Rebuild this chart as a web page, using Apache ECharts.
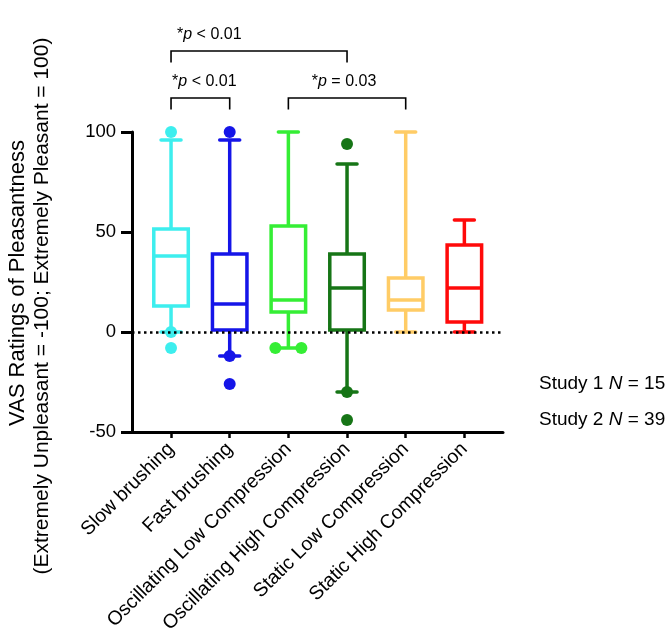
<!DOCTYPE html>
<html><head><meta charset="utf-8">
<script src="https://cdn.jsdelivr.net/npm/echarts@6/dist/echarts.min.js"></script>
<style>html,body{margin:0;padding:0;background:#fff}#c{width:671px;height:633px}</style>
</head><body><div id="c"></div>
<script>
const categories = ['Slow brushing', 'Fast brushing', 'Oscillating Low Compression', 'Oscillating High Compression', 'Static Low Compression', 'Static High Compression'];
const whiskerLow = [0, -12, -8, -30, 0, 0];
const q1 = [13, 1, 10, 1, 11, 5];
const median = [38, 14, 16, 22, 16, 22];
const q3 = [51.5, 39, 53, 39, 27, 43.5];
const whiskerHigh = [96, 96, 100, 84, 100, 56];
const outlierCat = [0, 0, 0, 1, 1, 1, 2, 2, 3, 3, 3];
const outlierVal = [100, 0, -8, 100, -12, -26, -8, -8, 94, -30, -44];
const yMin = -50, yMax = 100, yStep = 50;
const compFrom = [0, 0, 2];
const compTo = [3, 1, 4];
const compLevel = [140.5, 117, 117];
const compText = [' < 0.01', ' < 0.01', ' = 0.03'];
const studyLines = [['Study 1 ', 'N', ' = 15'], ['Study 2 ', 'N', ' = 39']];
const yTitle = ['VAS Ratings of Pleasantness', '(Extremely Unpleasant = -100; Extremely Pleasant = 100)'];

const colors = ['#3DEEEE', '#1515E8', '#35EE35', '#167516', '#FFCC66', '#FF0A0A'];
const FONT = '"Liberation Sans", Arial, sans-serif';

// spread duplicate outliers horizontally
const seen = {};
const outlierData = outlierCat.map((c, k) => {
  const key = c + '_' + outlierVal[k];
  seen[key] = (seen[key] || 0) + 1;
  return { key, idx: seen[key] };
});
const dupCount = {};
outlierData.forEach(o => { dupCount[o.key] = Math.max(dupCount[o.key] || 0, o.idx); });
const scatterData = outlierCat.map((c, k) => {
  const o = outlierData[k];
  const n = dupCount[o.key];
  const off = n > 1 ? (o.idx === 1 ? -13 : 13) : 0;
  return { value: [c, outlierVal[k]], symbolOffset: [off, 0], itemStyle: { color: colors[c], opacity: 1 } };
});

const chart = echarts.init(document.getElementById('c'), null, { renderer: 'canvas' });
chart.setOption({
  animation: false,
  backgroundColor: '#fff',
  grid: [
    { left: 132, right: 168, top: 132, bottom: 201, containLabel: false, outerBoundsMode: 'none' },
    { left: 141.7, right: 177.3, top: 132, bottom: 201, containLabel: false, outerBoundsMode: 'none' }
  ],
  xAxis: [
    { type: 'value', gridIndex: 0, min: 0, max: 1,
      axisLine: { show: true, onZero: false, lineStyle: { color: '#000', width: 3 } },
      axisTick: { show: false }, axisLabel: { show: false }, splitLine: { show: false } },
    { type: 'category', gridIndex: 1, data: categories, boundaryGap: true,
      axisLine: { show: false, onZero: false },
      axisTick: { show: true, alignWithLabel: true, length: 6, lineStyle: { color: '#000', width: 2.5 } },
      axisLabel: { interval: 0, rotate: 45, margin: 14, fontSize: 19.5, color: '#000', fontFamily: FONT },
      splitLine: { show: false } }
  ],
  yAxis: [
    { type: 'value', gridIndex: 0, min: yMin, max: yMax, interval: yStep,
      axisLine: { show: true, onZero: false, lineStyle: { color: '#000', width: 3 } },
      axisTick: { show: true, length: 11, lineStyle: { color: '#000', width: 3 } },
      axisLabel: { fontSize: 18.5, color: '#000', margin: 16, fontFamily: FONT },
      splitLine: { show: false } },
    { type: 'value', gridIndex: 1, min: yMin, max: yMax, show: false, splitLine: { show: false } }
  ],
  series: [
    { type: 'line', xAxisIndex: 0, yAxisIndex: 0, data: [], z: 1,
      markLine: { silent: true, symbol: 'none', label: { show: false },
        lineStyle: { color: '#000', width: 2.5, type: [2.5, 3.5] },
        data: [{ yAxis: 0 }] } },
    { type: 'custom', xAxisIndex: 1, yAxisIndex: 1, z: 3,
      data: categories.map((c, i) => [i, whiskerLow[i], q1[i], median[i], q3[i], whiskerHigh[i]]),
      renderItem: function (params, api) {
        const i = api.value(0);
        const x = api.coord([i, 0])[0];
        const yL = api.coord([i, api.value(1)])[1];
        const y1 = api.coord([i, api.value(2)])[1];
        const yM = api.coord([i, api.value(3)])[1];
        const y3 = api.coord([i, api.value(4)])[1];
        const yH = api.coord([i, api.value(5)])[1];
        const hw = 17.25, cw = 10;
        const st = { stroke: colors[i], lineWidth: 3.5, fill: null, lineCap: 'butt' };
        const capSt = { stroke: colors[i], lineWidth: 3.5, lineCap: 'round' };
        return { type: 'group', children: [
          { type: 'line', shape: { x1: x, y1: y3, x2: x, y2: yH }, style: st },
          { type: 'line', shape: { x1: x, y1: y1, x2: x, y2: yL }, style: st },
          { type: 'line', shape: { x1: x - cw, y1: yH, x2: x + cw, y2: yH }, style: capSt },
          { type: 'line', shape: { x1: x - cw, y1: yL, x2: x + cw, y2: yL }, style: capSt },
          { type: 'rect', shape: { x: x - hw, y: y3, width: 2 * hw, height: y1 - y3 },
            style: { stroke: colors[i], lineWidth: 3.5, fill: '#fff' } },
          { type: 'line', shape: { x1: x - hw, y1: yM, x2: x + hw, y2: yM }, style: st }
        ] };
      } },
    { type: 'scatter', xAxisIndex: 1, yAxisIndex: 1, z: 4, symbol: 'circle', symbolSize: 12,
      itemStyle: { opacity: 1 },
      data: scatterData },
    { type: 'custom', xAxisIndex: 1, yAxisIndex: 1, z: 5, clip: false,
      data: compFrom.map((f, k) => [f, compTo[k], compLevel[k], k]),
      renderItem: function (params, api) {
        const a = api.coord([api.value(0), api.value(2)]);
        const b = api.coord([api.value(1), api.value(2)]);
        const k = api.value(3);
        const leg = 11.5;
        const first = k === 0;
        const tx = first ? a[0] + 6 : (a[0] + b[0]) / 2 + (k === 1 ? 4 : -3);
        return { type: 'group', children: [
          { type: 'polyline', shape: { points: [[a[0], a[1] + leg], [a[0], a[1]], [b[0], b[1]], [b[0], b[1] + leg]] },
            style: { stroke: '#000', lineWidth: 1.6, fill: null } },
          { type: 'text', x: tx, y: a[1] - 16,
            style: { text: '{s|*}{p|p}{t|' + compText[k] + '}', fontSize: 16, fontFamily: FONT,
              align: first ? 'left' : 'center', verticalAlign: 'middle',
              rich: {
                s: { fontSize: 16, fontFamily: FONT, fill: '#000' },
                p: { fontSize: 16, fontFamily: FONT, fontStyle: 'italic', fill: '#000' },
                t: { fontSize: 16, fontFamily: FONT, fill: '#000' }
              } } }
        ] };
      } }
  ],
  graphic: [
    { type: 'text', x: 18, y: 283, rotation: Math.PI / 2,
      style: { text: yTitle[0], fontSize: 22, fontFamily: FONT, fill: '#000', align: 'center', verticalAlign: 'middle' } },
    { type: 'text', x: 42, y: 306, rotation: Math.PI / 2,
      style: { text: yTitle[1], fontSize: 21, fontFamily: FONT, fill: '#000', align: 'center', verticalAlign: 'middle' } },
    ...studyLines.map((ln, k) => ({
      type: 'text', x: 539, y: 384 + 36 * k,
      style: { text: '{a|' + ln[0] + '}{b|' + ln[1] + '}{a|' + ln[2] + '}', align: 'left', verticalAlign: 'middle',
        rich: {
          a: { fontSize: 19, fontFamily: FONT, fill: '#000' },
          b: { fontSize: 19, fontFamily: FONT, fontStyle: 'italic', fill: '#000' }
        } }
    }))
  ]
});
</script></body></html>
